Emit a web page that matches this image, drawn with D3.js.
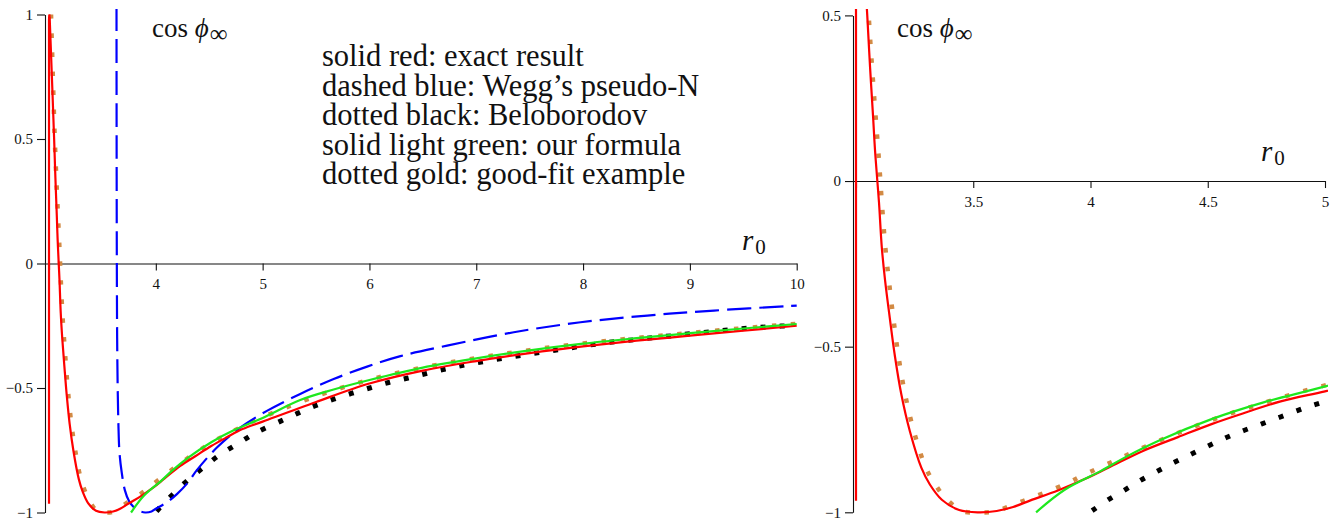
<!DOCTYPE html>
<html>
<head>
<meta charset="utf-8">
<script src="https://cdn.jsdelivr.net/npm/d3@7"></script>
<style>
  body { margin: 0; background: #fff; }
  svg text { font-family: "Liberation Serif", "Times New Roman", "DejaVu Serif", serif; fill: #111; }
</style>
</head>
<body>
<svg id="chart" width="1342" height="521"></svg>
<script>
// values: [r0, cos phi_inf]
const exactSpike = [[3.0, -0.965], [3.0, 0.98], [3.003, 1.0], [3.006, 0.99]];
const exactResult = [
  [3.006, 0.99], [3.027, 0.75], [3.048, 0.5], [3.06, 0.343], [3.073, 0.192], [3.081, 0.094],
  [3.091, 0.0], [3.098, -0.064], [3.11, -0.2], [3.124, -0.3], [3.144, -0.413], [3.166, -0.529],
  [3.193, -0.643], [3.23, -0.756], [3.279, -0.866], [3.315, -0.916], [3.366, -0.962], [3.44, -0.993],
  [3.52, -1.0], [3.6, -0.996], [3.67, -0.984], [3.744, -0.964], [3.861, -0.934], [3.978, -0.899],
  [4.08, -0.864], [4.226, -0.814], [4.373, -0.773], [4.519, -0.733], [4.665, -0.698], [4.811, -0.665],
  [5.0, -0.635], [5.5, -0.556], [6.0, -0.482], [6.5, -0.43], [7.0, -0.392], [7.5, -0.36],
  [8.0, -0.333], [8.5, -0.31], [9.0, -0.29], [9.5, -0.27], [10.0, -0.25]
];
const weggPseudoN = [
  [3.632, 1.03], [3.633, 0.5], [3.635, 0.0], [3.638, -0.3], [3.643, -0.5], [3.65, -0.65],
  [3.66, -0.76], [3.681, -0.84], [3.71, -0.91], [3.75, -0.955], [3.79, -0.977], [3.84, -0.993],
  [3.9, -1.0], [3.96, -0.996], [4.0, -0.985], [4.1, -0.96], [4.2, -0.925], [4.3, -0.88],
  [4.384, -0.83], [4.572, -0.739], [4.79, -0.659], [5.04, -0.592], [5.352, -0.524], [5.665, -0.464],
  [5.978, -0.414], [6.29, -0.372], [6.727, -0.33], [7.351, -0.276], [7.976, -0.236], [8.601, -0.209],
  [9.226, -0.189], [10.0, -0.169]
];
const beloborodov = [
  [4.007, -0.995], [4.076, -0.962], [4.143, -0.934], [4.212, -0.904], [4.285, -0.876], [4.358, -0.849],
  [4.431, -0.824], [4.504, -0.799], [4.577, -0.775], [4.654, -0.753], [4.731, -0.733], [4.807, -0.713],
  [4.882, -0.693], [4.957, -0.675], [5.174, -0.632], [5.331, -0.601], [5.493, -0.571], [5.665, -0.545],
  [5.83, -0.522], [6.002, -0.5], [6.18, -0.478], [6.362, -0.46], [6.54, -0.441], [6.711, -0.424],
  [6.89, -0.408], [7.065, -0.394], [7.243, -0.381], [7.421, -0.369], [7.602, -0.357], [7.78, -0.346],
  [7.955, -0.334], [8.133, -0.323], [8.311, -0.313], [8.486, -0.306], [8.664, -0.297], [8.842, -0.29],
  [9.024, -0.281], [9.205, -0.274], [9.383, -0.266], [9.561, -0.259], [9.743, -0.254], [10.0, -0.248]
];
const ourFormula = [
  [3.768, -1.0], [3.89, -0.932], [4.045, -0.875], [4.153, -0.832], [4.3, -0.781], [4.519, -0.718],
  [4.738, -0.668], [5.0, -0.62], [5.352, -0.548], [5.665, -0.506], [6.0, -0.468], [6.5, -0.418],
  [7.0, -0.381], [7.5, -0.349], [8.0, -0.322], [8.5, -0.3], [9.0, -0.28], [9.5, -0.261], [10.0, -0.243]
];
const goodFit = [
  [3.019, 1.0], [3.036, 0.75], [3.054, 0.5], [3.075, 0.277], [3.099, 0.051], [3.11, -0.064],
  [3.125, -0.2], [3.14, -0.3], [3.159, -0.413], [3.181, -0.529], [3.209, -0.643], [3.247, -0.756],
  [3.298, -0.866], [3.337, -0.915], [3.387, -0.961], [3.457, -0.997], [3.52, -1.0], [3.59, -0.998],
  [3.671, -0.977], [3.745, -0.957], [3.822, -0.936], [3.898, -0.913], [3.966, -0.889], [4.11, -0.842],
  [4.259, -0.794], [4.414, -0.749], [4.566, -0.709], [4.716, -0.675], [4.873, -0.641], [5.0, -0.617],
  [5.5, -0.533], [6.0, -0.467], [6.5, -0.418], [7.0, -0.38], [7.5, -0.348], [8.0, -0.321],
  [8.5, -0.299], [9.0, -0.279], [9.5, -0.26], [10.0, -0.242]
];

const legendLines = [
  "solid red: exact result",
  "dashed blue: Wegg\u2019s pseudo-N",
  "dotted black: Beloborodov",
  "solid light green: our formula",
  "dotted gold: good-fit example"
];

// ticks
const leftXMajor = [3, 4, 5, 6, 7, 8, 9, 10];
const leftXLabels = [4, 5, 6, 7, 8, 9, 10];
const leftXMinor = [3.5, 4.5, 5.5, 6.5, 7.5, 8.5, 9.5];
const leftYMajor = [-1, -0.5, 0, 0.5, 1];
const leftYMinor = [-0.9, -0.8, -0.7, -0.6, -0.4, -0.3, -0.2, -0.1, 0.1, 0.2, 0.3, 0.4, 0.6, 0.7, 0.8, 0.9];
const rightXMajor = [3, 3.5, 4, 4.5, 5];
const rightXLabels = [3.5, 4, 4.5, 5];
const rightXMinor = [3.1, 3.2, 3.3, 3.4, 3.6, 3.7, 3.8, 3.9, 4.1, 4.2, 4.3, 4.4, 4.6, 4.7, 4.8, 4.9];
const rightYMajor = [-1, -0.5, 0, 0.5];
const rightYMinor = [-0.9, -0.8, -0.7, -0.6, -0.4, -0.3, -0.2, -0.1, 0.1, 0.2, 0.3, 0.4];

const svg = d3.select("#chart");
const fmt = (v) => (v < 0 ? "\u2212" + Math.abs(v) : String(v));

const series = {
  gold: { data: goodFit, stroke: "#d28a44", width: 4.5, dash: "4.5 14.5", curve: d3.curveCatmullRom },
  black: { data: beloborodov, stroke: "#000", width: 5, dash: "5 14", curve: d3.curveCatmullRom },
  blue: { data: weggPseudoN, stroke: "#0000ff", width: 2.2, dash: "24 8", curve: d3.curveCatmullRom },
  spike: { data: exactSpike, stroke: "#ff0000", width: 2.2, dash: null, curve: d3.curveLinear },
  red: { data: exactResult, stroke: "#ff0000", width: 2.2, dash: null, curve: d3.curveCatmullRom },
  green: { data: ourFormula, stroke: "#1ee81e", width: 2.2, dash: null, curve: d3.curveCatmullRom }
};

function panel(id, cfg) {
  const x = d3.scaleLinear(cfg.xDomain, cfg.xRange);
  const y = d3.scaleLinear(cfg.yDomain, cfg.yRange);
  const g = svg.append("g").attr("class", id);

  g.append("clipPath").attr("id", "clip-" + id)
    .append("rect")
    .attr("x", cfg.xRange[0]).attr("y", 9)
    .attr("width", cfg.xRange[1] - cfg.xRange[0] + 3).attr("height", 508);

  // x axis along y = 0
  const xAxis = g.append("g").attr("transform", `translate(0,${y(0)})`);
  xAxis.call(d3.axisBottom(x).tickValues(cfg.xMinor).tickSize(3.5).tickSizeOuter(0).tickFormat(""));
  xAxis.call(d3.axisBottom(x).tickValues(cfg.xMajor).tickSize(7).tickSizeOuter(0).tickPadding(8)
    .tickFormat((d) => (cfg.xLabels.includes(d) ? fmt(d) : "")));

  // y axis at left edge
  const yAxis = g.append("g").attr("transform", `translate(${cfg.xRange[0]},0)`);
  yAxis.call(d3.axisLeft(y).tickValues(cfg.yMinor).tickSize(4).tickSizeOuter(0).tickFormat(""));
  yAxis.call(d3.axisLeft(y).tickValues(cfg.yMajor).tickSize(8).tickSizeOuter(0).tickPadding(4).tickFormat(fmt));

  g.selectAll(".domain, .tick line").attr("stroke", "#111").attr("stroke-width", 1.1);
  g.selectAll(".tick text").attr("font-size", 15).attr("fill", "#111");

  const plot = g.append("g").attr("clip-path", `url(#clip-${id})`);
  for (const key of cfg.show) {
    const s = series[key];
    plot.append("path")
      .attr("d", d3.line().x((d) => x(d[0])).y((d) => y(d[1])).curve(s.curve)(s.data))
      .attr("fill", "none")
      .attr("stroke", s.stroke)
      .attr("stroke-width", s.width)
      .attr("stroke-dasharray", s.dash);
  }

  // axis titles
  const t = g.append("text").attr("x", cfg.cosPos[0]).attr("y", cfg.cosPos[1]).attr("font-size", 27);
  t.append("tspan").text("cos ");
  t.append("tspan").attr("font-style", "italic").text("\u03d5");
  t.append("tspan").attr("font-size", 25).attr("dx", 1).attr("dy", 5).text("\u221e");

  const r = g.append("text").attr("x", cfg.rPos[0]).attr("y", cfg.rPos[1]).attr("font-size", 29);
  r.append("tspan").attr("font-style", "italic").text("r");
  r.append("tspan").attr("font-size", 21).attr("dx", 2).attr("dy", 4).text("0");
}

panel("left", {
  xDomain: [2.9625, 10], xRange: [45, 796.7],
  yDomain: [-1, 1], yRange: [512.5, 14.5],
  xMajor: leftXMajor, xLabels: leftXLabels, xMinor: leftXMinor,
  yMajor: leftYMajor, yMinor: leftYMinor,
  cosPos: [152, 37], rPos: [742, 250],
  show: ["gold", "black", "blue", "spike", "red", "green"]
});

panel("right", {
  xDomain: [2.9872, 5], xRange: [853, 1325],
  yDomain: [-1, 0.5], yRange: [512.3, 15.4],
  xMajor: rightXMajor, xLabels: rightXLabels, xMinor: rightXMinor,
  yMajor: rightYMajor, yMinor: rightYMinor,
  cosPos: [897, 37], rPos: [1261, 161],
  show: ["gold", "black", "spike", "red", "green"]
});

// legend text in the left panel
svg.append("g").selectAll("text")
  .data(legendLines)
  .join("text")
  .attr("x", 322)
  .attr("y", (d, i) => 66 + i * 29.6)
  .attr("font-size", 30.5)
  .text((d) => d);
</script>
</body>
</html>
